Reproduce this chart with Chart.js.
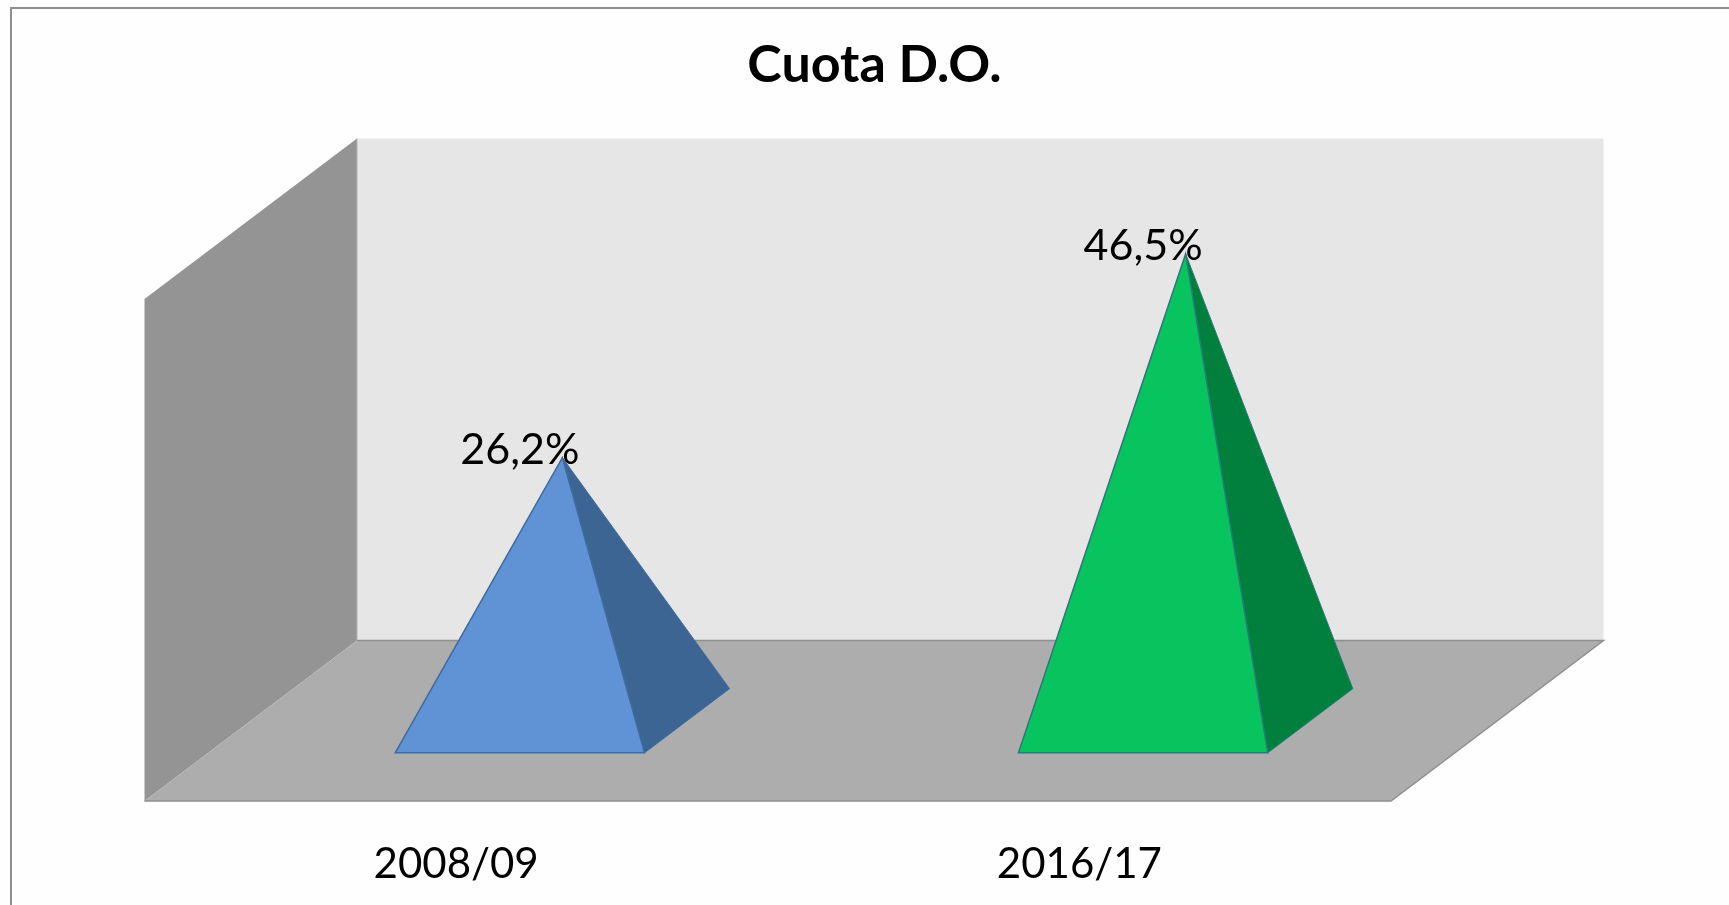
<!DOCTYPE html>
<html>
<head>
<meta charset="utf-8">
<title>Cuota D.O.</title>
<script src="https://cdn.jsdelivr.net/npm/chart.js@4"></script>
<style>
    html, body { margin: 0; padding: 0; background: #fff; overflow: hidden; }
    #wrap { position: relative; width: 1729px; height: 905px; }
</style>
</head>
<body>
<div id="wrap"><canvas id="quota"></canvas></div>
<script>
var categories = ["2008/09", "2016/17"];
var shareValues = [26.2, 46.5];
var shareLabels = ["26,2%", "46,5%"];

var frontColors = ["#5f93d6", "#08c45f"];
var sideColors = ["#3c6594", "#00803c"];
var edgeColors = ["#3f6c9f", "#2a7a78"];

// how far the box runs back from the front plane of the chart area
const depthX = 212.5;
const depthY = 160.5;
const labelFont = "Lato, 'Open Sans', sans-serif";

function polygon(ctx, points, fill, stroke, lineWidth) {
    ctx.beginPath();
    points.forEach((p, i) => i ? ctx.lineTo(p[0], p[1]) : ctx.moveTo(p[0], p[1]));
    ctx.closePath();
    ctx.fillStyle = fill;
    ctx.fill();
    if (stroke) {
        ctx.strokeStyle = stroke;
        ctx.lineWidth = lineWidth;
        ctx.stroke();
    }
}

const box3d = {
    id: "box3d",
    beforeDraw(chart) {
        const ctx = chart.ctx;
        ctx.save();
        ctx.fillStyle = "#fefefe";
        ctx.fillRect(0, 0, chart.width, chart.height);
        // frame, only top and left are in the crop
        ctx.strokeStyle = "#8e8e8e";
        ctx.lineWidth = 2;
        ctx.beginPath();
        ctx.moveTo(11, chart.height);
        ctx.lineTo(11, 8);
        ctx.lineTo(chart.width, 8);
        ctx.stroke();
        ctx.restore();
    },
    beforeDatasetsDraw(chart) {
        const ctx = chart.ctx;
        const a = chart.chartArea;
        const l = a.left, r = a.right, t = a.top, b = a.bottom;
        ctx.save();
        polygon(ctx, [[l + depthX, t - depthY], [r + depthX, t - depthY], [r + depthX, b - depthY], [l + depthX, b - depthY]], "#e6e6e6");
        polygon(ctx, [[l, t], [l + depthX, t - depthY], [l + depthX, b - depthY], [l, b]], "#949494");
        polygon(ctx, [[l, b], [l + depthX, b - depthY], [r + depthX, b - depthY], [r, b]], "#adadad");
        ctx.strokeStyle = "#8f8f8f";
        ctx.lineWidth = 1.5;
        ctx.beginPath();
        ctx.moveTo(l, b);
        ctx.lineTo(r, b);
        ctx.lineTo(r + depthX, b - depthY);
        ctx.lineTo(l + depthX, b - depthY);
        ctx.stroke();
        ctx.strokeStyle = "#b4b4b4";
        ctx.lineWidth = 1;
        ctx.beginPath();
        ctx.moveTo(l + depthX, t - depthY);
        ctx.lineTo(l + depthX, b - depthY);
        ctx.stroke();
        ctx.restore();
    },
    afterDatasetsDraw(chart) {
        const ctx = chart.ctx;
        const meta = chart.getDatasetMeta(0);
        ctx.save();
        meta.data.forEach((bar, i) => {
            const half = bar.width / 2;
            // the base sits between 30% and 70% of the box depth
            const fx = 0.3 * depthX, fy = 0.3 * depthY;
            const bx = 0.7 * depthX, by = 0.7 * depthY;
            const frontL = [bar.x - half + fx, bar.base - fy];
            const frontR = [bar.x + half + fx, bar.base - fy];
            const backR = [bar.x + half + bx, bar.base - by];
            const apex = [bar.x + 0.5 * depthX, bar.y - 0.5 * depthY];
            polygon(ctx, [frontR, backR, apex], sideColors[i], edgeColors[i], 1);
            polygon(ctx, [frontL, frontR, apex], frontColors[i], edgeColors[i], 1.5);

            ctx.fillStyle = "#000";
            ctx.font = "43px " + labelFont;
            ctx.textAlign = "center";
            ctx.textBaseline = "middle";
            ctx.fillText(shareLabels[i], bar.x + fx, apex[1] - 8);
        });
        ctx.restore();
    }
};

var chart = new Chart(document.getElementById("quota"), {
    type: "bar",
    data: {
        labels: categories,
        datasets: [{
            label: "Cuota D.O.",
            data: shareValues,
            backgroundColor: "transparent",
            borderWidth: 0,
            barPercentage: 0.4,
            categoryPercentage: 1
        }]
    },
    plugins: [box3d],
    options: {
        responsive: true,
        maintainAspectRatio: false,
        animation: false,
        layout: { padding: { left: 20, right: 0, top: 0, bottom: 0 } },
        scales: {
            x: {
                grid: { display: false },
                border: { display: false },
                ticks: {
                    color: "#000",
                    padding: 30,
                    maxRotation: 0,
                    font: { family: labelFont, size: 42 }
                },
                afterFit(scale) { scale.height = 104; }
            },
            y: {
                min: 0,
                max: 50,
                grid: { display: false },
                border: { display: false },
                ticks: { display: false },
                afterFit(scale) { scale.width = 124.5; }
            },
            // empty axis, keeps the room on the right of the box
            spare: {
                position: "right",
                display: true,
                grid: { display: false },
                border: { display: false },
                ticks: { display: false },
                afterFit(scale) { scale.width = 338; }
            }
        },
        plugins: {
            legend: { display: false },
            tooltip: { enabled: false },
            title: {
                display: true,
                text: "Cuota D.O.",
                color: "#000",
                font: { family: labelFont, size: 52, weight: "bold", lineHeight: 1.2 },
                padding: { top: 34, bottom: 202.6 }
            }
        }
    }
});
</script>
</body>
</html>
